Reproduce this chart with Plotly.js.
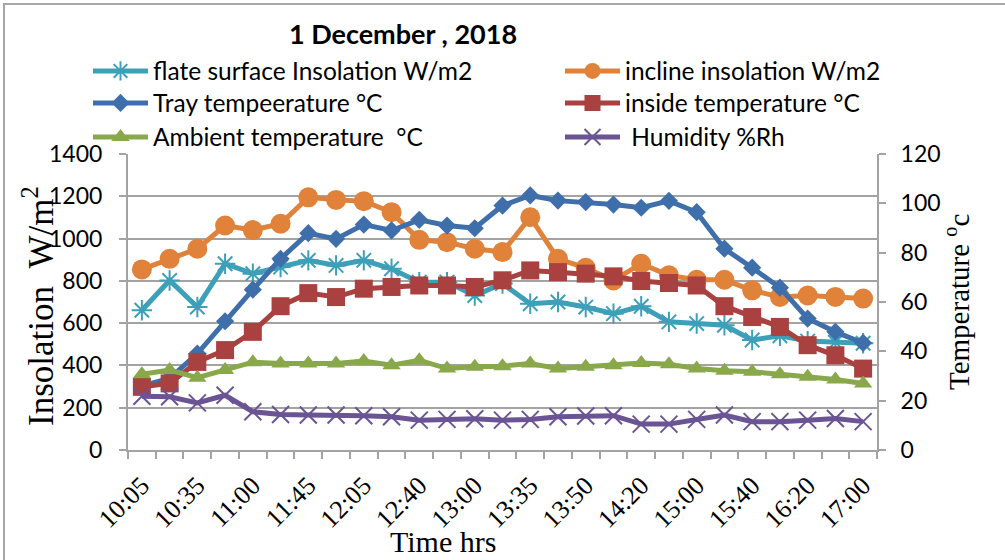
<!DOCTYPE html>
<html>
<head>
<meta charset="utf-8">
<script src="https://cdn.plot.ly/plotly-3.0.1.min.js"></script>
<style>
  html, body { margin: 0; padding: 0; background: #ffffff; }
  #chart { width: 1005px; height: 560px; }
</style>
</head>
<body>
<div id="chart"></div>
<script>
// ---- Data ----
// 27 readings; time labels are shown on every second reading
const tickLabels = ['10:05','10:35','11:00','11:45','12:05','12:40','13:00','13:35','13:50','14:20','15:00','15:40','16:20','17:00'];
const flatInsolation = [661, 802, 676, 881, 834, 865, 897, 873, 897, 857, 794, 794, 731, 787, 692, 700, 676, 645, 680, 606, 598, 590, 520, 540, 515, 510, 505];
const inclineInsolation = [854, 904, 952, 1062, 1040, 1070, 1195, 1183, 1177, 1125, 994, 983, 952, 936, 1101, 904, 862, 802, 881, 826, 805, 805, 755, 724, 731, 724, 716];
const trayTemp = [26, 29, 39.1, 52.2, 65.0, 77.5, 87.9, 85.6, 91.4, 89.0, 93.3, 91.0, 89.9, 99.1, 103.2, 101.1, 100.5, 99.5, 98.2, 101.0, 96.4, 81.6, 73.9, 65.8, 53.3, 47.9, 43.4];
const insideTemp = [25.6, 27.0, 35.7, 40.5, 47.9, 58.3, 63.6, 62.0, 65.4, 66.1, 66.7, 66.7, 66.1, 68.8, 72.8, 72.1, 71.5, 70.4, 68.5, 67.7, 66.7, 58.3, 53.9, 49.9, 42.5, 38.4, 33.0];
const ambientTemp = [30.7, 32.4, 29.3, 32.4, 35.6, 35.1, 35.1, 35.1, 36.1, 34.4, 36.4, 33.0, 33.7, 34.0, 35.1, 33.0, 33.7, 34.4, 35.3, 34.8, 33.0, 32.1, 31.7, 30.7, 29.7, 28.6, 27.0];
const humidity = [21.8, 21.6, 19.1, 22.2, 15.5, 14.4, 14.2, 14.2, 13.9, 13.5, 12.1, 12.4, 12.7, 12.1, 12.4, 13.5, 13.8, 13.9, 10.5, 10.5, 12.4, 14.2, 11.5, 11.5, 12.1, 12.8, 11.5];
const seriesNames = ['flate surface Insolation W/m2', 'incline insolation W/m2', 'Tray tempeerature °C', 'inside temperature °C', 'Ambient temperature  °C', ' Humidity %Rh'];

// ---- Layout helpers ----
const L = 128, R = 877, T = 154, B = 450, W = 1005, H = 560;
const px2x = p => (p - L) / (R - L);
const py2y = p => (B - p) / (B - T);

const idx = flatInsolation.map((_, i) => i);
const tickVals = tickLabels.map((_, i) => i * 2);

const gridCol = '#a3a3a3';
const sans = 'Lato, "Open Sans", sans-serif';
const serif = '"Liberation Serif", "Times New Roman", serif';

function tr(name, y, yaxis, color, symbol, size, legend, extraMarker) {
  return {
    x: idx, y: y, name: name, yaxis: yaxis, legend: legend,
    type: 'scatter', mode: 'lines+markers',
    line: { color: color, width: 5 },
    marker: Object.assign({ symbol: symbol, size: size, color: color }, extraMarker || {}),
    cliponaxis: false
  };
}

const data = [
  tr(seriesNames[0], flatInsolation, 'y', '#3e9fb8', 'asterisk-open', 17, 'legend', { line: { color: '#3e9fb8', width: 2 } }),
  tr(seriesNames[1], inclineInsolation, 'y', '#e0823a', 'circle', 20, 'legend2'),
  tr(seriesNames[2], trayTemp, 'y2', '#3f6fab', 'diamond', 14, 'legend3'),
  tr(seriesNames[3], insideTemp, 'y2', '#a8413f', 'square', 18, 'legend4'),
  tr(seriesNames[4], ambientTemp, 'y2', '#89a84a', 'triangle-up', 16, 'legend5'),
  tr(seriesNames[5], humidity, 'y2', '#6b5494', 'x-thin-open', 17, 'legend6', { line: { color: '#6b5494', width: 2 } })
];

function legendAt(pxLeft, py) {
  return {
    orientation: 'v', x: px2x(pxLeft), xanchor: 'left', y: py2y(py), yanchor: 'middle',
    itemwidth: 55,
    font: { family: sans, size: 24.5, color: '#000000' },
    bgcolor: 'rgba(0,0,0,0)', borderwidth: 0
  };
}

const layout = {
  width: W, height: H,
  margin: { l: L, r: W - R, t: T, b: H - B, pad: 0 },
  paper_bgcolor: '#ffffff', plot_bgcolor: '#ffffff',
  showlegend: true,
  title: {
    text: '<b>1 December , 2018</b>',
    font: { family: sans, size: 27, color: '#000000' },
    x: px2x(403), xref: 'paper', xanchor: 'center',
    y: 1 - 35 / H, yref: 'container', yanchor: 'middle'
  },
  legend: legendAt(88, 71),
  legend2: legendAt(560, 71),
  legend3: legendAt(88, 103),
  legend4: legendAt(560, 103),
  legend5: legendAt(88, 137),
  legend6: legendAt(560, 137),
  xaxis: {
    range: [-0.5, 26.5], fixedrange: true,
    tickmode: 'array', tickvals: tickVals, ticktext: tickLabels,
    tickangle: -45, ticks: '',
    tickfont: { family: serif, size: 26, color: '#000000' },
    ticklabelstandoff: 8,
    showgrid: false, zeroline: false,
    showline: true, linecolor: gridCol, linewidth: 2,
    minor: { tick0: -0.5, dtick: 1, ticks: 'outside', ticklen: 7, tickwidth: 2, tickcolor: gridCol, showgrid: false }
  },
  yaxis: {
    range: [0, 1400], dtick: 200, fixedrange: true,
    ticks: 'outside', ticklen: 7, tickwidth: 2, tickcolor: gridCol,
    tickfont: { family: sans, size: 23, color: '#000000' },
    showgrid: true, gridcolor: gridCol, gridwidth: 2,
    zeroline: false, showline: true, linecolor: gridCol, linewidth: 2,
    ticklabelstandoff: 12
  },
  yaxis2: {
    range: [0, 120], dtick: 20, overlaying: 'y', side: 'right', fixedrange: true,
    ticks: 'outside', ticklen: 7, tickwidth: 2, tickcolor: gridCol,
    tickfont: { family: sans, size: 23, color: '#000000' },
    showgrid: false, zeroline: false, showline: true, linecolor: gridCol, linewidth: 2,
    ticklabelstandoff: 10
  },
  annotations: [
    { text: 'Time hrs', xref: 'paper', yref: 'paper', x: px2x(443), y: py2y(541), xanchor: 'center', yanchor: 'middle',
      showarrow: false, font: { family: serif, size: 30, color: '#000000' } },
    { text: 'Insolation\u00A0\u00A0W/m<sup>2</sup>', xref: 'paper', yref: 'paper', x: px2x(38), y: py2y(306),
      xanchor: 'center', yanchor: 'middle', textangle: -90,
      showarrow: false, font: { family: serif, size: 35, color: '#000000' } },
    { text: 'Temperature <sup>o</sup>c', xref: 'paper', yref: 'paper', x: px2x(957), y: py2y(302),
      xanchor: 'center', yanchor: 'middle', textangle: -90,
      showarrow: false, font: { family: serif, size: 29, color: '#000000' } }
  ],
  shapes: [
    { type: 'rect', xref: 'paper', yref: 'paper', layer: 'below',
      x0: px2x(4), x1: px2x(1012), y0: py2y(570), y1: py2y(4),
      line: { color: '#a6a6a6', width: 2 }, fillcolor: 'rgba(0,0,0,0)' }
  ]
};

Plotly.newPlot('chart', data, layout, { displayModeBar: false, staticPlot: true });
</script>
</body>
</html>
